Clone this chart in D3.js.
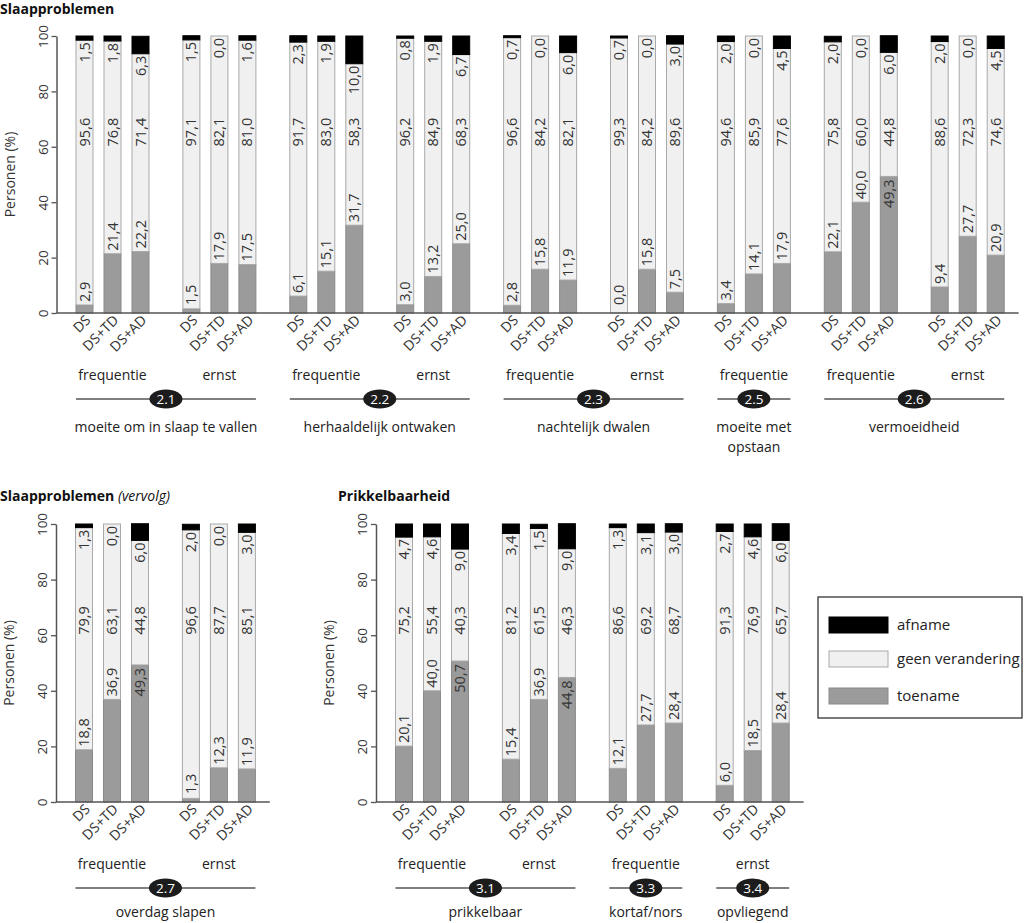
<!DOCTYPE html>
<html><head><meta charset="utf-8">
<script src="https://cdn.jsdelivr.net/npm/d3@7"></script>
<style>body{margin:0;background:#fff} svg{display:block;font-family:"Open Sans",sans-serif}</style>
</head><body><svg id="c" width="1024" height="923"></svg>
<script>
// ---------- data ----------
const barLabels = ["DS", "DS+TD", "DS+AD"];
const legendLabels = ["afname", "geen verandering", "toename"];
const yTicks = [0, 20, 40, 60, 80, 100];

// Panel 1: Slaapproblemen
const p1Measures = ["frequentie","ernst","frequentie","ernst","frequentie","ernst","frequentie","frequentie","ernst"];
const p1Codes = ["2.1","2.2","2.3","2.5","2.6"];
const p1ItemLabels = [["moeite om in slaap te vallen"],["herhaaldelijk ontwaken"],["nachtelijk dwalen"],["moeite met","opstaan"],["vermoeidheid"]];
const p1ItemSpans = [[0,1],[2,3],[4,5],[6,6],[7,8]];
const p1Toename = [[2.9,21.4,22.2],[1.5,17.9,17.5],[6.1,15.1,31.7],[3.0,13.2,25.0],[2.8,15.8,11.9],[0.0,15.8,7.5],[3.4,14.1,17.9],[22.1,40.0,49.3],[9.4,27.7,20.9]];
const p1Geen    = [[95.6,76.8,71.4],[97.1,82.1,81.0],[91.7,83.0,58.3],[96.2,84.9,68.3],[96.6,84.2,82.1],[99.3,84.2,89.6],[94.6,85.9,77.6],[75.8,60.0,44.8],[88.6,72.3,74.6]];
const p1Afname  = [[1.5,1.8,6.3],[1.5,0.0,1.6],[2.3,1.9,10.0],[0.8,1.9,6.7],[0.7,0.0,6.0],[0.7,0.0,3.0],[2.0,0.0,4.5],[2.0,0.0,6.0],[2.0,0.0,4.5]];

// Panel 2: Slaapproblemen (vervolg)
const p2Measures = ["frequentie","ernst"];
const p2Codes = ["2.7"];
const p2ItemLabels = [["overdag slapen"]];
const p2ItemSpans = [[0,1]];
const p2Toename = [[18.8,36.9,49.3],[1.3,12.3,11.9]];
const p2Geen    = [[79.9,63.1,44.8],[96.6,87.7,85.1]];
const p2Afname  = [[1.3,0.0,6.0],[2.0,0.0,3.0]];

// Panel 3: Prikkelbaarheid
const p3Measures = ["frequentie","ernst","frequentie","ernst"];
const p3Codes = ["3.1","3.3","3.4"];
const p3ItemLabels = [["prikkelbaar"],["kortaf/nors"],["opvliegend"]];
const p3ItemSpans = [[0,1],[2,2],[3,3]];
const p3Toename = [[20.1,40.0,50.7],[15.4,36.9,44.8],[12.1,27.7,28.4],[6.0,18.5,28.4]];
const p3Geen    = [[75.2,55.4,40.3],[81.2,61.5,46.3],[86.6,69.2,68.7],[91.3,76.9,65.7]];
const p3Afname  = [[4.7,4.6,9.0],[3.4,1.5,9.0],[1.3,3.1,3.0],[2.7,4.6,6.0]];

// ---------- style ----------
const COL = {toename:"#9b9b9b", geen:"#f0f0f0", afname:"#000"};
const STROKE = {toename:"#8a8a8a", geen:"#a9a9a9", afname:"#000"};
const GW = 106.9;
const fmt = v => d3.format(".1f")(v).replace(".", ",");
const svg = d3.select("#c");

function panel(cfg){
  const g = svg.append("g");
  const y = d3.scaleLinear().domain([0,100]).range([cfg.y0, cfg.y100]);
  const n = cfg.measures.length;
  const x0 = d3.scaleBand().domain(d3.range(n)).range([cfg.ax, cfg.ax + n*GW]);
  const x1 = d3.scaleBand().domain(barLabels).range([19.5, 92.5]).paddingInner(0.393);
  const rows = [];
  for (let i=0;i<n;i++) for (let j=0;j<3;j++)
    rows.push({grp:i, bar:barLabels[j], toename:cfg.toe[i][j], geen:cfg.geen[i][j], afname:cfg.af[i][j]});
  const keys = ["toename","geen","afname"];
  const series = d3.stack().keys(keys)(rows);
  const bx = d => x0(d.data.grp) + x1(d.data.bar);

  series.forEach(s => {
    g.append("g").selectAll("rect").data(s.filter(d => d[1]-d[0] > 0)).join("rect")
      .attr("x", bx).attr("width", x1.bandwidth())
      .attr("y", d => y(d[1])).attr("height", d => y(d[0]) - y(d[1]))
      .attr("fill", COL[s.key]).attr("stroke", STROKE[s.key]).attr("stroke-width", 1);
  });

  // value labels
  const lab = g.append("g").attr("font-size", 14.5).attr("fill", "#333");
  rows.forEach(r => {
    const cx = x0(r.grp) + x1(r.bar) + x1.bandwidth()/2;
    let yy, anchor;
    if (r.toename > 42) { yy = y(r.toename) + 3; anchor = "end"; }
    else { yy = Math.min(y(r.toename), y(0) - 5) - 3; anchor = "start"; }
    lab.append("text").attr("transform", `translate(${cx},${yy}) rotate(-90)`)
      .attr("text-anchor", anchor).attr("dy", "0.35em").text(fmt(r.toename));
    lab.append("text").attr("transform", `translate(${cx},${y(65.3)}) rotate(-90)`)
      .attr("text-anchor", "middle").attr("dy", "0.35em").text(fmt(r.geen));
    lab.append("text").attr("transform", `translate(${cx},${y(r.toename + r.geen) + 2}) rotate(-90)`)
      .attr("text-anchor", "end").attr("dy", "0.35em").text(fmt(r.afname));
  });

  // y axis
  const ya = g.append("g").attr("transform", `translate(${cfg.ax},0)`)
    .call(d3.axisLeft(y).tickValues(yTicks).tickSize(5).tickSizeOuter(0));
  ya.select(".domain").attr("stroke", "#555").attr("stroke-width", 1.5);
  ya.selectAll(".tick line").attr("stroke", "#555").attr("stroke-width", 1.3);
  ya.selectAll(".tick text").attr("x", null).attr("dy", null).attr("fill", "#333")
    .attr("font-size", 13.5).attr("font-family", "Open Sans")
    .attr("text-anchor", "middle").attr("transform", "translate(-9,0) rotate(-90)");
  g.append("text").attr("transform", `translate(${cfg.ax - 42},${(cfg.y0 + cfg.y100)/2}) rotate(-90)`)
    .attr("text-anchor", "middle").attr("font-size", 14).attr("fill", "#333").text("Personen (%)");

  // x baseline
  g.append("line").attr("x1", cfg.ax).attr("x2", cfg.ax + n*GW).attr("y1", y(0)).attr("y2", y(0))
    .attr("stroke", "#555").attr("stroke-width", 1.5);

  // x tick labels
  for (let i=0;i<n;i++) barLabels.forEach(b => {
    const cx = x0(i) + x1(b) + x1.bandwidth()/2;
    g.append("text").attr("transform", `translate(${cx + 7},${y(0) + 8}) rotate(-45)`)
      .attr("text-anchor", "end").attr("font-size", 14).attr("fill", "#333").text(b);
  });

  // measure labels
  cfg.measures.forEach((m, i) => {
    const cx = x0(i) + x1("DS") + (x1("DS+AD") + x1.bandwidth() - x1("DS"))/2;
    g.append("text").attr("x", cx).attr("y", y(0) + 62).attr("dy", "0.35em").attr("text-anchor", "middle")
      .attr("font-size", 14).attr("fill", "#222").text(m);
  });

  // items
  cfg.spans.forEach((sp, k) => {
    const xa = x0(sp[0]) + x1("DS"), xb = x0(sp[1]) + x1("DS+AD") + x1.bandwidth();
    const cx = (xa + xb)/2, ly = y(0) + 86;
    g.append("line").attr("x1", xa).attr("x2", xb).attr("y1", ly).attr("y2", ly)
      .attr("stroke", "#555").attr("stroke-width", 1.5);
    g.append("ellipse").attr("cx", cx).attr("cy", ly).attr("rx", 16.5).attr("ry", 9.5).attr("fill", "#1c1c1c");
    g.append("text").attr("x", cx).attr("y", ly).attr("dy", "0.35em").attr("text-anchor", "middle")
      .attr("font-size", 13.5).attr("fill", "#fff").text(cfg.codes[k]);
    cfg.items[k].forEach((t, li) => {
      g.append("text").attr("x", cx).attr("y", ly + cfg.itemOff + li*20).attr("dy", "0.35em").attr("text-anchor", "middle")
        .attr("font-size", 14).attr("fill", "#222").text(t);
    });
  });
}

panel({ax:56.5, y0:313, y100:36, itemOff:28, measures:p1Measures, codes:p1Codes, items:p1ItemLabels, spans:p1ItemSpans, toe:p1Toename, geen:p1Geen, af:p1Afname});
panel({ax:56, y0:802, y100:524, itemOff:24, measures:p2Measures, codes:p2Codes, items:p2ItemLabels, spans:p2ItemSpans, toe:p2Toename, geen:p2Geen, af:p2Afname});
panel({ax:376, y0:802, y100:524, itemOff:24, measures:p3Measures, codes:p3Codes, items:p3ItemLabels, spans:p3ItemSpans, toe:p3Toename, geen:p3Geen, af:p3Afname});

// titles
svg.append("text").attr("x", 0).attr("y", 14).attr("font-size", 14).attr("font-weight", "bold").attr("fill", "#111").text("Slaapproblemen");
const t2 = svg.append("text").attr("x", 0).attr("y", 501).attr("font-size", 14).attr("fill", "#111");
t2.append("tspan").attr("font-weight", "bold").text("Slaapproblemen ");
t2.append("tspan").attr("font-style", "italic").text("(vervolg)");
svg.append("text").attr("x", 338).attr("y", 501).attr("font-size", 14).attr("font-weight", "bold").attr("fill", "#111").text("Prikkelbaarheid");

// legend
const lg = svg.append("g");
lg.append("rect").attr("x", 818).attr("y", 597).attr("width", 204).attr("height", 121)
  .attr("fill", "#fff").attr("stroke", "#333").attr("stroke-width", 1.3);
const legKeys = ["afname","geen","toename"];
legendLabels.forEach((l, i) => {
  const yy = [617, 651, 688][i];
  lg.append("rect").attr("x", 829).attr("y", yy).attr("width", 59).attr("height", 16)
    .attr("fill", COL[legKeys[i]]).attr("stroke", STROKE[legKeys[i]]);
  lg.append("text").attr("x", 897).attr("y", yy + 8).attr("dy", "0.35em").attr("font-size", 15).attr("fill", "#222").text(l);
});
</script></body></html>
